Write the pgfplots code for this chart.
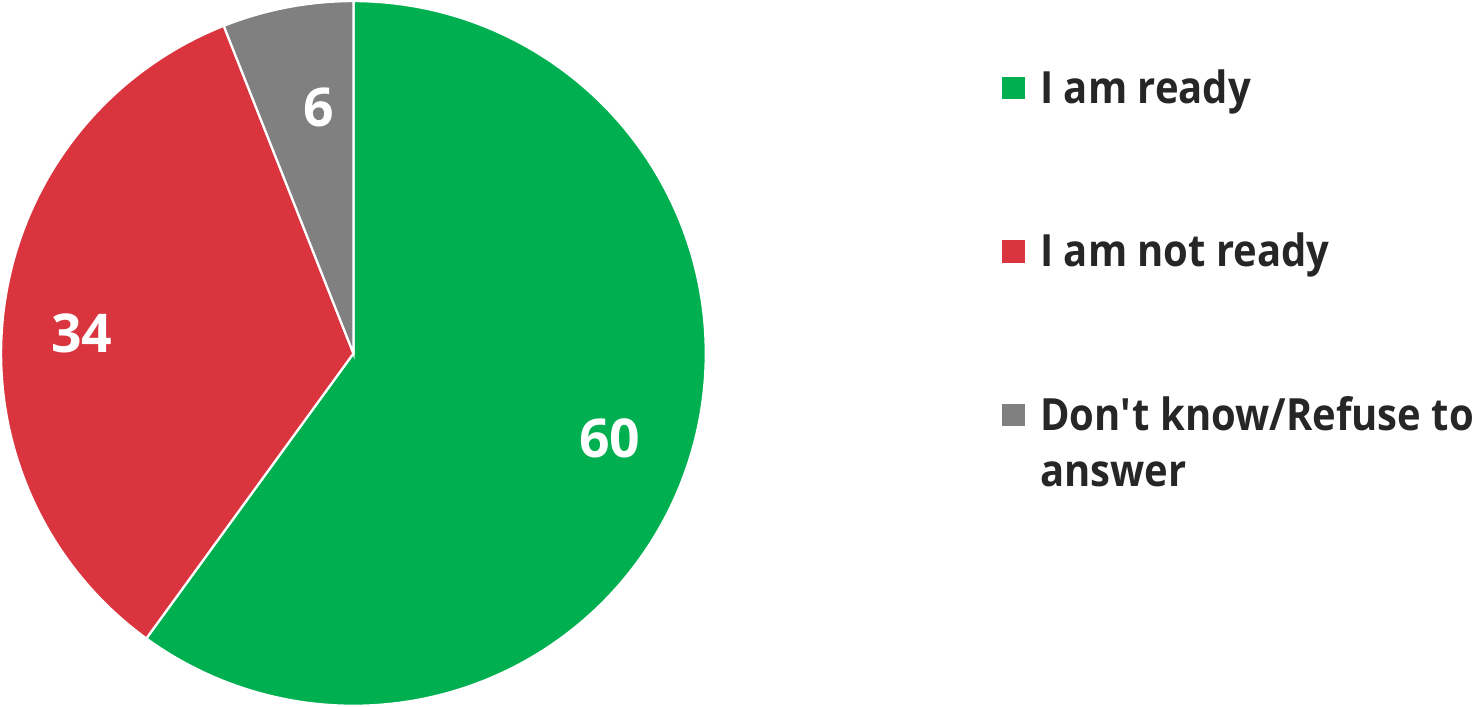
\documentclass[border=0pt]{standalone}
\usepackage{pgfplots}
\pgfplotsset{compat=1.18}
\usepackage{fontspec}
\setmainfont{Open Sans}
\newfontfamily\legfont{Open Sans}[FakeStretch=0.9]
\definecolor{cgreen}{HTML}{00B050}
\definecolor{cred}{HTML}{DA343E}
\definecolor{cgray}{HTML}{808080}
\definecolor{ctext}{HTML}{262626}
% pie values (percent)
\def\vA{60}\def\vB{34}\def\vC{6}
\begin{document}
\begin{tikzpicture}
\pgfmathsetmacro{\aA}{90-3.6*\vA}
\pgfmathsetmacro{\aB}{\aA-3.6*\vB}
\pgfmathsetmacro{\aC}{\aB-3.6*\vC}
\begin{axis}[
  scale only axis, width=737pt, height=353.5pt,
  xmin=0, xmax=1474, ymin=0, ymax=707,
  hide axis, clip=false,
]
\addplot[fill=cgreen, draw=white, line width=1.1pt, domain=\aA:90, samples=240, variable=\t]
  ({355+349*cos(t)}, {351+349*sin(t)}) -- (axis cs:355,351) -- cycle;
\addplot[fill=cred, draw=white, line width=1.1pt, domain=\aB:\aA, samples=160, variable=\t]
  ({355+349*cos(t)}, {351+349*sin(t)}) -- (axis cs:355,351) -- cycle;
\addplot[fill=cgray, draw=white, line width=1.1pt, domain=\aC:\aB, samples=40, variable=\t]
  ({355+349*cos(t)}, {351+349*sin(t)}) -- (axis cs:355,351) -- cycle;
% data labels
\node[text=white, font=\fontsize{26.5}{30}\selectfont\bfseries] at (axis cs:609,267) {\vA};
\node[text=white, font=\fontsize{26.5}{30}\selectfont\bfseries] at (axis cs:86,371) {\vB};
\node[text=white, font=\fontsize{26.5}{30}\selectfont\bfseries] at (axis cs:321,595) {\vC};
% legend
\fill[cgreen] (axis cs:997,625) rectangle (axis cs:1020,603);
\fill[cred] (axis cs:997,463) rectangle (axis cs:1020,441);
\fill[cgray] (axis cs:997,301) rectangle (axis cs:1020,279);
\tikzset{leg/.style={anchor=base west, inner sep=0pt, text=ctext, font=\legfont\fontsize{22}{28}\selectfont\bfseries}}
\node[leg] at (axis cs:1035,599) {I am ready};
\node[leg] at (axis cs:1035,437) {I am not ready};
\node[leg] at (axis cs:1035,275) {Don\textquotesingle t know/Refuse to};
\node[leg] at (axis cs:1035,219) {answer};
\end{axis}
\end{tikzpicture}
\end{document}
